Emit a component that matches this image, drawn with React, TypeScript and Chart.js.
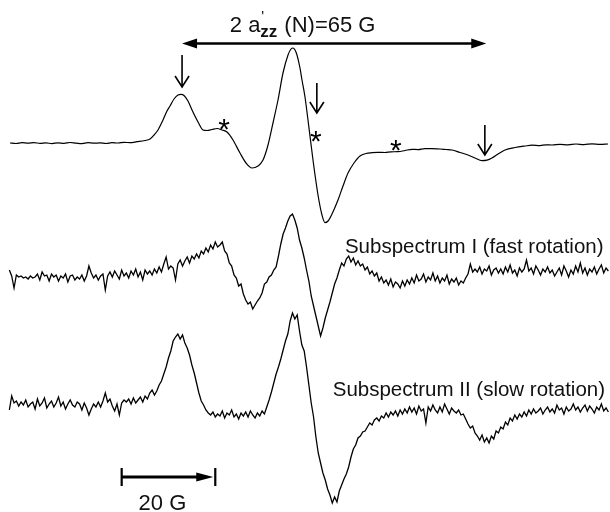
import React, { useEffect, useRef } from "react";
import { Chart, registerables } from "chart.js";
Chart.register(...registerables);

// Field axis in gauss; intensity in arbitrary units (first-derivative EPR)
const TOP_FIELD = [
  2.14, 3.42, 4.7, 5.98, 7.26, 8.55, 9.83, 11.11, 12.39, 13.68,
  14.96, 16.24, 17.52, 18.8, 20.09, 21.37, 22.65, 23.93, 25.21, 26.5,
  27.78, 29.27, 30.98, 32.05, 32.91, 33.76, 34.83, 35.68, 36.33, 37.18,
  38.03, 38.68, 39.32, 40.17, 41.03, 42.31, 43.38, 44.23, 45.3, 46.37,
  47.44, 48.51, 49.79, 51.28, 52.57, 53.85, 55.13, 56.2, 57.27, 58.33,
  59.4, 60.47, 61.54, 62.18, 62.61, 63.04, 63.46, 64.1, 64.53, 65.17,
  65.81, 66.88, 67.95, 68.8, 69.45, 70.09, 70.94, 72.22, 73.29, 74.36,
  75.64, 76.92, 78.21, 79.49, 80.77, 82.26, 83.55, 85.05, 86.54, 88.04,
  89.32, 90.81, 92.31, 94.02, 95.3, 96.58, 98.29, 100.0, 101.5, 102.99,
  104.06, 105.13, 106.41, 107.91, 110.05, 112.18, 113.68, 115.39, 116.67, 117.95,
  119.66, 121.37, 123.08, 124.79, 126.5, 128.21, 129.92,
];
const TOP_SIGNAL = [
  0, -0.5, 0.3, -0.2, 0.4, -0.4, 0.1, -0.6, 0.2, -0.3,
  0.5, -0.1, -0.6, 0.3, -0.2, 0.1, -0.5, 0.4, 0, 0.6,
  0.4, 1.3, 2.5, 4, 8, 13, 23, 32, 37, 44,
  48, 48.7, 47.5, 42, 33, 21, 13, 12.5, 13.5, 14.5,
  13, 11, 3, -10, -20, -25, -23, -17, -2, 20,
  43, 70, 88, 94, 95, 93, 88, 75, 63, 46,
  23, -17, -52, -72, -79.7, -78, -71, -57, -43, -30,
  -20, -13, -10.5, -9.7, -9.3, -9.5, -8.8, -8.7, -7.5, -6.3,
  -6.6, -5.6, -5.7, -6, -6.5, -7, -9.5, -12, -15, -17.7,
  -17.2, -15, -11, -7, -4.5, -3, -2.2, -2.6, -1.8, -2,
  -1.3, -1.8, -1, -1.6, -0.8, -1.4, -1,
];

// Subspectra sampled every 0.5 G starting at 2 G
const SUB_FIELD_START = 2;
const SUB_FIELD_STEP = 0.5;
const SUB1_SIGNAL = [
  8, 2, -10, 3, 1, 2, 0, 1, -1, 2,
  0, 1, 4, -2, 6, 2, 3, -3, 4, 1,
  3, -3, 2, 0, 4, -4, 2, 3, -2, 1,
  -1, 3, -3, 2, 12, 5, 0, 3, -2, 2,
  4, -12, 2, 6, 1, 7, 3, -1, 8, 2,
  5, 0, 7, 3, 9, 1, 6, -2, 8, 4,
  7, 3, 9, 5, 11, 6, 14, 21, 9, 12,
  10, -2, 14, 18, 12, 17, 21, 15, 22, 19,
  24, 20, 27, 24, 30, 26, 33, 29, 36, 31,
  33, 36, 27, 24, 15, 12, 3, 0, -8, -6,
  -16, -22, -26, -24, -31, -27, -23, -20, -15, -6,
  -4, 1, 3, 8, 11, 22, 34, 44, 50, 57,
  62, 64, 58, 50, 38, 30, 20, 8, -3, -18,
  -28, -38, -48, -58, -50, -40, -32, -24, -15, -6,
  0, 8, 15, 12, 19, 22, 16, 20, 13, 17,
  12, 14, 8, 11, 4, 7, 2, 5, -3, 1,
  -5, -2, -7, -1, -9, -4, -6, -10, -3, -8,
  -2, -6, 0, -5, 3, -3, -1, 4, -4, 1,
  -2, 5, -3, 2, -5, 0, -3, 3, -6, -1,
  -4, 0, -7, -3, -5, 0, 4, 14, 6, 9,
  6, 11, 4, 9, 7, 12, 3, 8, 10, 5,
  9, 4, 11, 6, 13, 5, 8, 2, 10, 6,
  9, 18, 7, 10, 4, 12, 8, 3, 9, 6,
  11, 5, 8, 2, 6, 10, 3, 12, 7, 1,
  8, 4, 12, 6, 15, 5, 10, 3, 9, 6,
  11, 4, 9, 13, 5, 10, 7,
];
const SUB2_SIGNAL = [
  -5, 9, 2, 4, -1, 3, 0, 5, -2, 1,
  3, -4, 6, -1, 2, 7, -3, 1, 4, -2,
  2, 8, -1, 3, -4, 1, 5, 0, -2, 3,
  1, -5, 2, -3, -10, -4, 1, -2, 3, -2,
  4, 12, 3, 6, -1, -6, 1, -10, 2, 5,
  3, 6, 1, 7, 2, 5, 8, 3, 9, 6,
  12, 15, 10, 14, 20, 24, 31, 38, 47, 54,
  64, 68, 71, 66, 70, 62, 57, 50, 40, 32,
  22, 12, 4, 0, -5, -8, -10, -7, -12, -9,
  -11, -6, -13, -8, -10, -5, -12, -9, -14, -8,
  -11, -7, -12, -6, -10, -13, -8, -11, -6, -9,
  -2, 5, 13, 22, 31, 38, 46, 55, 64, 71,
  84, 92, 86, 90, 74, 60, 54, 38, 20, 2,
  -12, -32, -48, -58, -68, -75, -84, -90, -98, -92,
  -97, -86, -80, -74, -69, -62, -52, -44, -40, -33,
  -31, -27, -26, -22, -18, -20, -15, -13, -16, -11,
  -13, -8, -12, -7, -10, -6, -11, -5, -9, -4,
  -8, -2, -7, -3, -9, -1, -6, -4, -18, -2,
  -6, 0, -5, -8, -2, -7, 1, -4, -9, -3,
  -6, -8, -5, -10, -9, -14, -19, -23, -21, -28,
  -31, -35, -30, -37, -33, -38, -31, -34, -26, -28,
  -22, -24, -17, -20, -13, -16, -10, -14, -9, -12,
  -7, -11, -5, -9, -4, -8, -6, -3, -9, -5,
  -2, -7, -4, -8, 0, -5, -3, -9, -2, -6,
  -4, 1, -5, -2, -7, -3, 0, -6, -1, -4,
  -8, -2, -5, 1, -6, -3, -7,
];

const MARKED_LINES = [38.9, 67.7, 103.6]; // arrows (slow component)
const STARRED_LINES = [47.9, 67.5, 84.6]; // asterisks (fast component)
const SPLITTING_G = 65;
const SCALE_BAR_G = 20;
const LABEL_SUB1 = "Subspectrum I (fast rotation)";
const LABEL_SUB2 = "Subspectrum II (slow rotation)";
const SCALE_LABEL = "20 G";

const FONT = '"Liberation Sans", Arial, Helvetica, sans-serif';

export default function App() {
  const ref = useRef<HTMLCanvasElement>(null);

  useEffect(() => {
    const canvas = ref.current;
    if (!canvas) return;
    const W = 610;
    const H = 512;
    const PX_PER_G = 4.68;
    const TOP_BASE = 369;
    const SUB1_BASE = 234;
    const SUB2_BASE = 107;

    const topData = TOP_FIELD.map((f, i) => ({ x: f, y: TOP_BASE + TOP_SIGNAL[i] }));
    const subData = (arr: number[], base: number) =>
      arr.map((v, i) => ({ x: SUB_FIELD_START + i * SUB_FIELD_STEP, y: base + v }));

    const annot = {
      id: "annot",
      afterDatasetsDraw(chart: any) {
        const ctx = chart.ctx as CanvasRenderingContext2D;
        const xs = chart.scales.x;
        const ys = chart.scales.y;
        const X = (g: number) => xs.getPixelForValue(g);
        const Y = (v: number) => ys.getPixelForValue(v);
        ctx.save();
        ctx.strokeStyle = "#000";
        ctx.fillStyle = "#000";

        // down arrows
        const tops = [457, 429, 387];
        const tips = [425, 399, 357];
        MARKED_LINES.forEach((g, i) => {
          const x = X(g);
          const y0 = Y(tops[i]);
          const y1 = Y(tips[i]);
          ctx.lineWidth = 1.6;
          ctx.beginPath();
          ctx.moveTo(x, y0);
          ctx.lineTo(x, y1);
          ctx.moveTo(x - 7, y1 - 11);
          ctx.lineTo(x, y1);
          ctx.lineTo(x + 7, y1 - 11);
          ctx.stroke();
        });

        // asterisks
        const starY = [390, 378, 369];
        ctx.font = `30px ${FONT}`;
        ctx.textAlign = "center";
        ctx.textBaseline = "alphabetic";
        STARRED_LINES.forEach((g, i) => {
          ctx.fillText("*", X(g), Y(starY[i]) + 17);
        });

        // double arrow for 2a'zz
        const ay = Y(468.5);
        const ax0 = X(MARKED_LINES[0]);
        const ax1 = X(MARKED_LINES[0] + SPLITTING_G);
        ctx.lineWidth = 2.4;
        ctx.beginPath();
        ctx.moveTo(ax0 + 6, ay);
        ctx.lineTo(ax1 - 6, ay);
        ctx.stroke();
        ctx.beginPath();
        ctx.moveTo(ax0, ay);
        ctx.lineTo(ax0 + 15, ay - 5);
        ctx.lineTo(ax0 + 15, ay + 5);
        ctx.closePath();
        ctx.fill();
        ctx.beginPath();
        ctx.moveTo(ax1, ay);
        ctx.lineTo(ax1 - 15, ay - 5);
        ctx.lineTo(ax1 - 15, ay + 5);
        ctx.closePath();
        ctx.fill();

        // title 2 a'zz (N)=65 G
        ctx.fillStyle = "#111";
        ctx.textAlign = "left";
        ctx.textBaseline = "alphabetic";
        let tx = X(49.1);
        const tb = Y(480);
        ctx.font = `22px ${FONT}`;
        ctx.fillText("2 a", tx, tb);
        tx += ctx.measureText("2 a").width;
        ctx.font = `bold 17px ${FONT}`;
        ctx.fillText("zz", tx, tb + 5);
        const zw = ctx.measureText("zz").width;
        ctx.font = `15px ${FONT}`;
        ctx.fillText("'", tx + 1, tb - 11);
        tx += zw + 7;
        ctx.font = `22px ${FONT}`;
        ctx.fillText("(N)=65 G", tx, tb);

        // subspectrum labels
        ctx.font = `20.5px ${FONT}`;
        ctx.fillText(LABEL_SUB1, X(73.7), Y(259));
        ctx.fillText(LABEL_SUB2, X(71.1), Y(116));

        // scale bar
        ctx.fillStyle = "#000";
        const sx0 = X(26);
        const sx1 = X(26 + SCALE_BAR_G);
        const sy = Y(35);
        ctx.lineWidth = 3;
        ctx.beginPath();
        ctx.moveTo(sx0, sy);
        ctx.lineTo(sx1 - 10, sy);
        ctx.stroke();
        ctx.lineWidth = 2.2;
        ctx.beginPath();
        ctx.moveTo(sx0, sy - 9);
        ctx.lineTo(sx0, sy + 9);
        ctx.moveTo(sx1, sy - 9);
        ctx.lineTo(sx1, sy + 9);
        ctx.stroke();
        ctx.beginPath();
        ctx.moveTo(sx1 - 2, sy);
        ctx.lineTo(sx1 - 19, sy - 4.5);
        ctx.lineTo(sx1 - 19, sy + 4.5);
        ctx.closePath();
        ctx.fill();
        ctx.fillStyle = "#111";
        ctx.font = `22px ${FONT}`;
        ctx.textAlign = "center";
        ctx.fillText(SCALE_LABEL, X(34.7), Y(2));
        ctx.restore();
      },
    };

    const lineStyle = {
      borderColor: "#000",
      borderWidth: 1.3,
      pointRadius: 0,
      fill: false,
    };

    const chart = new Chart(canvas, {
      type: "line",
      data: {
        datasets: [
          { ...lineStyle, borderWidth: 1.2, data: topData, cubicInterpolationMode: "monotone" as const },
          { ...lineStyle, data: subData(SUB1_SIGNAL, SUB1_BASE), tension: 0 },
          { ...lineStyle, data: subData(SUB2_SIGNAL, SUB2_BASE), tension: 0 },
        ],
      },
      options: {
        animation: false,
        responsive: false,
        devicePixelRatio: 1,
        layout: { padding: 0 },
        plugins: { legend: { display: false }, tooltip: { enabled: false } },
        scales: {
          x: { type: "linear", display: false, min: 0, max: W / PX_PER_G },
          y: { type: "linear", display: false, min: 0, max: H },
        },
      },
      plugins: [annot],
    });
    return () => chart.destroy();
  }, []);

  return (
    <div style={{ position: "absolute", left: 0, top: 0, width: 610, height: 512, background: "#fff" }}>
      <canvas ref={ref} width={610} height={512} style={{ display: "block", width: 610, height: 512 }} />
    </div>
  );
}
